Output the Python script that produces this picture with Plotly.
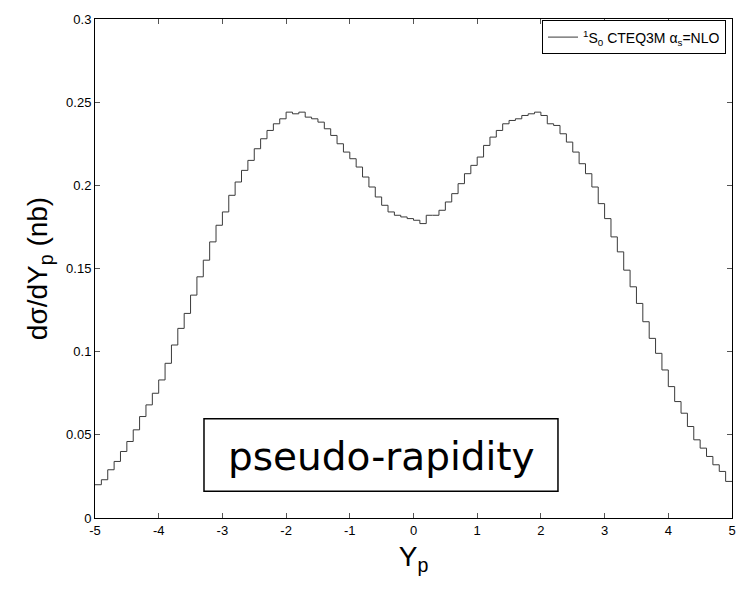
import plotly.graph_objects as go

# Bin centres of the step histogram (bin width 0.1 over -5..5)
bin_centers = [round(-4.95 + 0.1 * i, 2) for i in range(100)]

# dσ/dY_p (nb) per bin
sigma = [
    0.020, 0.023, 0.029, 0.034, 0.040, 0.046, 0.053, 0.061, 0.068, 0.075,
    0.083, 0.093, 0.104, 0.114, 0.123, 0.134, 0.145, 0.155, 0.166, 0.176,
    0.184, 0.194, 0.202, 0.209, 0.215, 0.222, 0.228, 0.233, 0.237, 0.240,
    0.244, 0.243, 0.244, 0.241, 0.240, 0.238, 0.234, 0.230, 0.225, 0.220,
    0.216, 0.211, 0.205, 0.199, 0.193, 0.188, 0.184, 0.182, 0.181, 0.180,
    0.179, 0.177, 0.182, 0.182, 0.185, 0.190, 0.195, 0.201, 0.207, 0.212,
    0.217, 0.224, 0.229, 0.233, 0.237, 0.239, 0.240, 0.242, 0.243, 0.244,
    0.242, 0.237, 0.236, 0.231, 0.226, 0.220, 0.213, 0.207, 0.199, 0.189,
    0.180, 0.169, 0.160, 0.149, 0.139, 0.129, 0.118, 0.108, 0.099, 0.089,
    0.079, 0.070, 0.063, 0.055, 0.047, 0.042, 0.037, 0.032, 0.028, 0.022,
]

x_ticks = [-5, -4, -3, -2, -1, 0, 1, 2, 3, 4, 5]
x_tick_text = ["-5", "-4", "-3", "-2", "-1", "0", "1", "2", "3", "4", "5"]
y_ticks = [0, 0.05, 0.1, 0.15, 0.2, 0.25, 0.3]
y_tick_text = ["0", "0.05", "0.1", "0.15", "0.2", "0.25", "0.3"]

half = 0.05
edges_x = [c - half for c in bin_centers] + [bin_centers[-1] + half]
edges_y = sigma + [sigma[-1]]

FONT = "Liberation Sans, Arial, sans-serif"

fig = go.Figure()
fig.add_trace(go.Scatter(
    x=edges_x, y=edges_y, mode="lines", line_shape="hv",
    line=dict(color="#3a3a3a", width=1),
    name="<sup>1</sup>S<sub>0</sub> CTEQ3M \u03b1<sub>s</sub>=NLO",
    showlegend=True,
))

axis_common = dict(
    showline=True, linecolor="black", linewidth=1, mirror="ticks",
    ticks="inside", ticklen=5, tickcolor="#555", showgrid=False, zeroline=False,
    tickfont=dict(family=FONT, size=13, color="black"),
)

fig.update_layout(
    width=750, height=591,
    margin=dict(l=95, r=18, t=15, b=73),
    paper_bgcolor="white", plot_bgcolor="white",
    xaxis=dict(range=[-5, 5], tickvals=x_ticks, ticktext=x_tick_text,
               title=dict(text="Y<sub>p</sub>", standoff=9,
                          font=dict(family=FONT, size=28, color="black")),
               **axis_common),
    yaxis=dict(range=[0, 0.3], tickvals=y_ticks, ticktext=y_tick_text,
               title=dict(text="d\u03c3/dY<sub>p</sub> (nb)", standoff=10,
                          font=dict(family=FONT, size=28, color="black")),
               **axis_common),
    legend=dict(x=0.9906, xanchor="right", y=0.997, yanchor="top",
                bgcolor="white", bordercolor="black", borderwidth=1,
                font=dict(family=FONT, size=14, color="black"),
                itemwidth=30, tracegroupgap=0),
    shapes=[dict(type="rect", xref="paper", yref="paper",
                 x0=0.1711, x1=0.7268, y0=0.0537, y1=0.1988,
                 line=dict(color="black", width=1.5), fillcolor="white", layer="above")],
    annotations=[dict(
        text="pseudo-rapidity", xref="paper", yref="paper", x=0.4497, y=0.124,
        xanchor="center", yanchor="middle", showarrow=False,
        font=dict(family="DejaVu Sans, sans-serif", size=39, color="black"),
    )],
)

fig.write_html("out.html")
